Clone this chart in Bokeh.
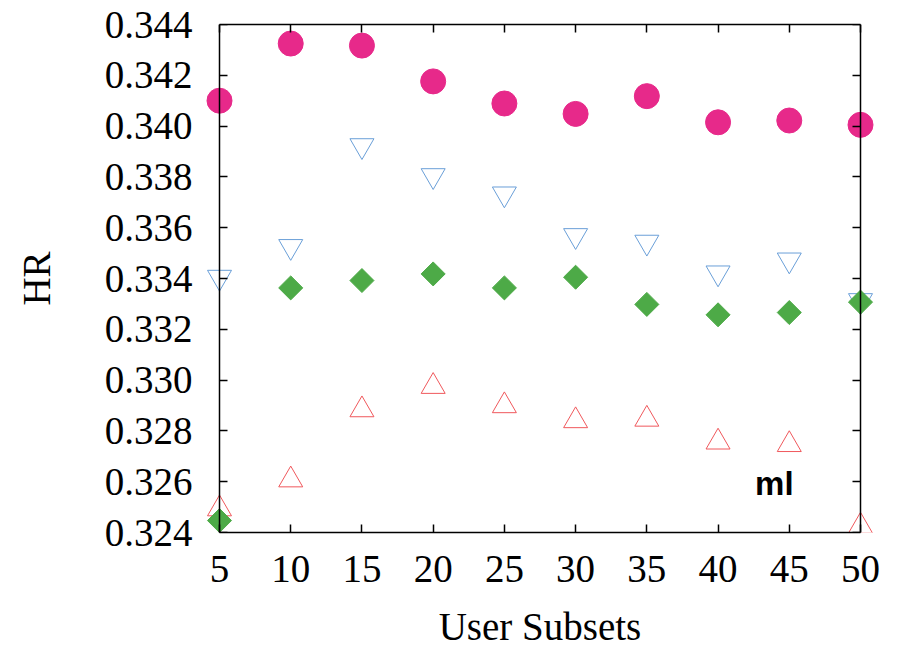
from bokeh.plotting import figure
from bokeh.models import LinearAxis, FixedTicker, PrintfTickFormatter, Label, Range1d
from bokeh.embed import file_html
from bokeh.resources import INLINE
import numpy as np

# ---- data ----
subsets = [5, 10, 15, 20, 25, 30, 35, 40, 45, 50]
hr_circle = [0.34100, 0.34325, 0.34317, 0.34176, 0.34089, 0.34048, 0.34118, 0.34015, 0.34022, 0.34005]
hr_down_tri = [0.33405, 0.33526, 0.33923, 0.33805, 0.33733, 0.33569, 0.33543, 0.33422, 0.33473, 0.33313]
hr_diamond = [0.32447, 0.33363, 0.33392, 0.33418, 0.33363, 0.33405, 0.33298, 0.33257, 0.33266, 0.33307]
hr_up_tri = [0.32493, 0.32607, 0.32883, 0.32975, 0.32899, 0.32840, 0.32846, 0.32756, 0.32746, 0.32425]
x_ticks = [5, 10, 15, 20, 25, 30, 35, 40, 45, 50]
y_ticks = [0.324, 0.326, 0.328, 0.330, 0.332, 0.334, 0.336, 0.338, 0.340, 0.342, 0.344]
x_lo, x_hi = 5, 50
y_lo, y_hi = 0.324, 0.344
dataset_name = "ml"
x_label = "User Subsets"
y_label = "HR"

SERIF = "Liberation Serif"
FS = "39px"

# layout: box is 641 x 508 px; a 15 px horizontal pad keeps edge markers unclipped
PAD = 15
BOX_W = 641
dx = PAD * (x_hi - x_lo) / BOX_W

p = figure(width=900, height=650, output_backend="svg", toolbar_location=None, title=None,
           x_range=Range1d(x_lo - dx, x_hi + dx), y_range=Range1d(y_lo, y_hi),
           min_border_left=219 - PAD, min_border_right=40 - PAD,
           min_border_top=24, min_border_bottom=118)
p.grid.visible = False
p.outline_line_color = None
p.background_fill_color = "white"
p.border_fill_color = "white"

def style_lines(ax):
    ax.axis_line_color = "black"
    ax.axis_line_width = 1.5
    ax.major_tick_line_color = "black"
    ax.major_tick_line_width = 1.5
    ax.major_tick_in = 8
    ax.major_tick_out = 0
    ax.minor_tick_line_color = "black"
    ax.minor_tick_line_width = 1.5
    ax.minor_tick_in = 8
    ax.minor_tick_out = 0

def style_text(ax):
    ax.major_label_text_font = SERIF
    ax.major_label_text_font_size = FS
    ax.major_label_text_color = "black"
    ax.axis_label_text_font = SERIF
    ax.axis_label_text_font_size = FS
    ax.axis_label_text_font_style = "normal"
    ax.axis_label_text_color = "black"

# bottom axis (line, ticks, labels)
xa = p.xaxis[0]
xa.ticker = FixedTicker(ticks=x_ticks)
xa.bounds = (x_lo, x_hi)
xa.axis_label = x_label
style_lines(xa)
style_text(xa)
xa.major_label_standoff = 23
xa.axis_label_standoff = 20

# left axis at frame edge: labels only
ya = p.yaxis[0]
ya.ticker = FixedTicker(ticks=y_ticks)
ya.formatter = PrintfTickFormatter(format="%.3f")
ya.axis_label = y_label
style_text(ya)
ya.axis_line_color = None
ya.major_tick_line_color = None
ya.minor_tick_line_color = None
ya.major_label_standoff = 6
ya.axis_label_standoff = 44

# left box edge at x = 5: line and inward ticks
yl = LinearAxis(ticker=FixedTicker(ticks=[], minor_ticks=y_ticks),
                fixed_location=x_lo, bounds=(y_lo, y_hi))
style_lines(yl)
p.add_layout(yl, "left")

# mirror axes: ticks only
top = LinearAxis(ticker=FixedTicker(ticks=[], minor_ticks=x_ticks), bounds=(x_lo, x_hi))
style_lines(top)
p.add_layout(top, "above")
right = LinearAxis(ticker=FixedTicker(ticks=[], minor_ticks=y_ticks),
                   fixed_location=x_hi, bounds=(y_lo, y_hi))
style_lines(right)
p.add_layout(right, "right")

p.scatter(subsets, hr_circle, marker="circle", size=25,
          fill_color="#e7298a", line_color="#e7298a")
p.scatter(subsets, hr_down_tri, marker="inverted_triangle", size=24,
          fill_color=None, line_color="#6a9fd8", line_width=1)
p.scatter(subsets, hr_up_tri, marker="triangle", size=24,
          fill_color=None, line_color="#f0585c", line_width=1)
p.scatter(subsets, hr_diamond, marker="square", size=17, angle=np.pi / 4,
          fill_color="#4daa47", line_color="#4daa47")

p.add_layout(Label(x=42.6, y=0.32593, text=dataset_name, text_font="Liberation Sans",
                   text_font_style="bold", text_font_size="33px", text_color="black",
                   text_baseline="middle", text_align="left"))

open("out.html", "w").write(file_html(p, INLINE))
